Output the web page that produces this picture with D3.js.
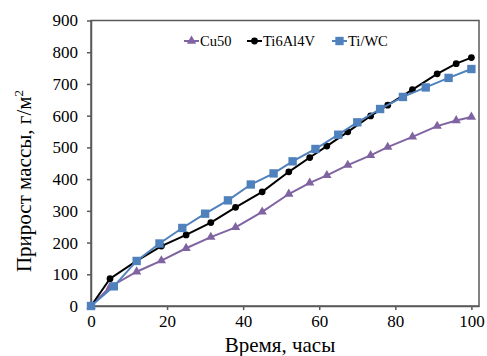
<!DOCTYPE html>
<html>
<head>
<meta charset="utf-8">
<script src="https://cdn.jsdelivr.net/npm/d3@7"></script>
<style>
  body { margin: 0; background: #fff; }
  text { font-family: "Liberation Serif", "Times New Roman", serif; }
</style>
</head>
<body>
<div id="graph"></div>
<script>
// data
var hours = [0, 5, 12, 18.5, 25, 31.5, 38, 45, 52, 57.5, 62, 67.5, 73.5, 78, 84.5, 91, 96, 100];
var cu50 = [0, 60, 108, 143, 182, 217, 248, 297, 353, 388, 412, 444, 475, 501, 533, 567, 585, 596];
var ti6al4v = [0, 86, 142, 189, 224, 263, 311, 360, 423, 468, 504, 549, 599, 633, 682, 732, 764, 783];
var hoursWC = [0, 6, 12, 18, 24, 30, 36, 42, 48, 53, 59, 65, 70, 76, 82, 88, 94, 100];
var tiwc = [0, 62, 142, 197, 246, 291, 333, 383, 418, 456, 495, 540, 579, 621, 659, 689, 719, 747];
var xTicks = [0, 20, 40, 60, 80, 100];
var yTicks = [0, 100, 200, 300, 400, 500, 600, 700, 800, 900];

var series = [
    { name: 'Cu50', t: hours, v: cu50, color: '#8064a2', symbol: d3.symbolTriangle, size: 38 },
    { name: 'Ti6Al4V', t: hours, v: ti6al4v, color: '#000000', symbol: d3.symbolCircle, size: 36 },
    { name: 'Ti/WC', t: hoursWC, v: tiwc, color: '#4f81bd', symbol: d3.symbolSquare, size: 70 }
];

var width = 487,
    height = 356;
var plotLeft = 91, plotRight = 479, plotTop = 20.5, plotBottom = 306;

var svg = d3.select('#graph')
    .append('svg')
        .attr('width', width)
        .attr('height', height);

var x = d3.scaleLinear().domain([0, 102]).range([plotLeft, plotRight]);
var y = d3.scaleLinear().domain([0, 900]).range([plotBottom, plotTop]);

var axisColor = '#595959';

// plot frame
svg.append('rect')
    .attr('x', plotLeft).attr('y', plotTop)
    .attr('width', plotRight - plotLeft).attr('height', plotBottom - plotTop)
    .attr('fill', 'none')
    .attr('stroke', axisColor)
    .attr('stroke-width', 1.5);

var xAxis = svg.append('g')
    .attr('transform', 'translate(0,' + plotBottom + ')')
    .call(d3.axisBottom(x).tickValues(xTicks).tickSize(4).tickPadding(5).tickSizeOuter(0));
var yAxis = svg.append('g')
    .attr('transform', 'translate(' + plotLeft + ',0)')
    .call(d3.axisLeft(y).tickValues(yTicks).tickSize(4).tickPadding(9).tickSizeOuter(0));

[xAxis, yAxis].forEach(function(a) {
    a.select('.domain').attr('stroke', axisColor).attr('stroke-width', 1.5);
    a.selectAll('.tick line').attr('stroke', axisColor).attr('stroke-width', 1.5);
    a.selectAll('.tick text')
        .attr('fill', '#000')
        .style('font-family', '"Liberation Serif", serif')
        .style('font-size', '17px');
});

// series
var line = d3.line();
series.forEach(function(s) {
    var pts = s.t.map(function(t, i) { return [x(t), y(s.v[i])]; });
    svg.append('path')
        .attr('d', line(pts))
        .attr('fill', 'none')
        .attr('stroke', s.color)
        .attr('stroke-width', 2);
    svg.append('g')
        .selectAll('path')
        .data(pts).enter().append('path')
        .attr('transform', function(d) { return 'translate(' + d[0] + ',' + d[1] + ')'; })
        .attr('d', d3.symbol().type(s.symbol).size(s.size))
        .attr('fill', s.color);
});

// LEGEND -----------------------------------------------------------------------------
var legendX = [184, 247, 332];
var legend = svg.append('g');
series.forEach(function(s, i) {
    var lx = legendX[i];
    legend.append('line')
        .attr('x1', lx).attr('x2', lx + 15)
        .attr('y1', 41).attr('y2', 41)
        .attr('stroke', s.color)
        .attr('stroke-width', 2);
    legend.append('path')
        .attr('transform', 'translate(' + (lx + 7.5) + ',41)')
        .attr('d', d3.symbol().type(s.symbol).size(s.size))
        .attr('fill', s.color);
    legend.append('text')
        .attr('x', lx + 16)
        .attr('y', 46)
        .style('font-size', '14.5px')
        .text(s.name);
});

// axis titles
svg.append('text')
    .attr('x', 280)
    .attr('y', 352)
    .attr('text-anchor', 'middle')
    .style('font-size', '21px')
    .text('Время, часы');

var yTitle = svg.append('text')
    .attr('transform', 'translate(31,181) rotate(-90)')
    .attr('text-anchor', 'middle')
    .style('font-size', '21px');
yTitle.append('tspan').text('Прирост массы, г/м');
yTitle.append('tspan')
    .attr('dy', -8)
    .style('font-size', '13px')
    .text('2');
</script>
</body>
</html>
